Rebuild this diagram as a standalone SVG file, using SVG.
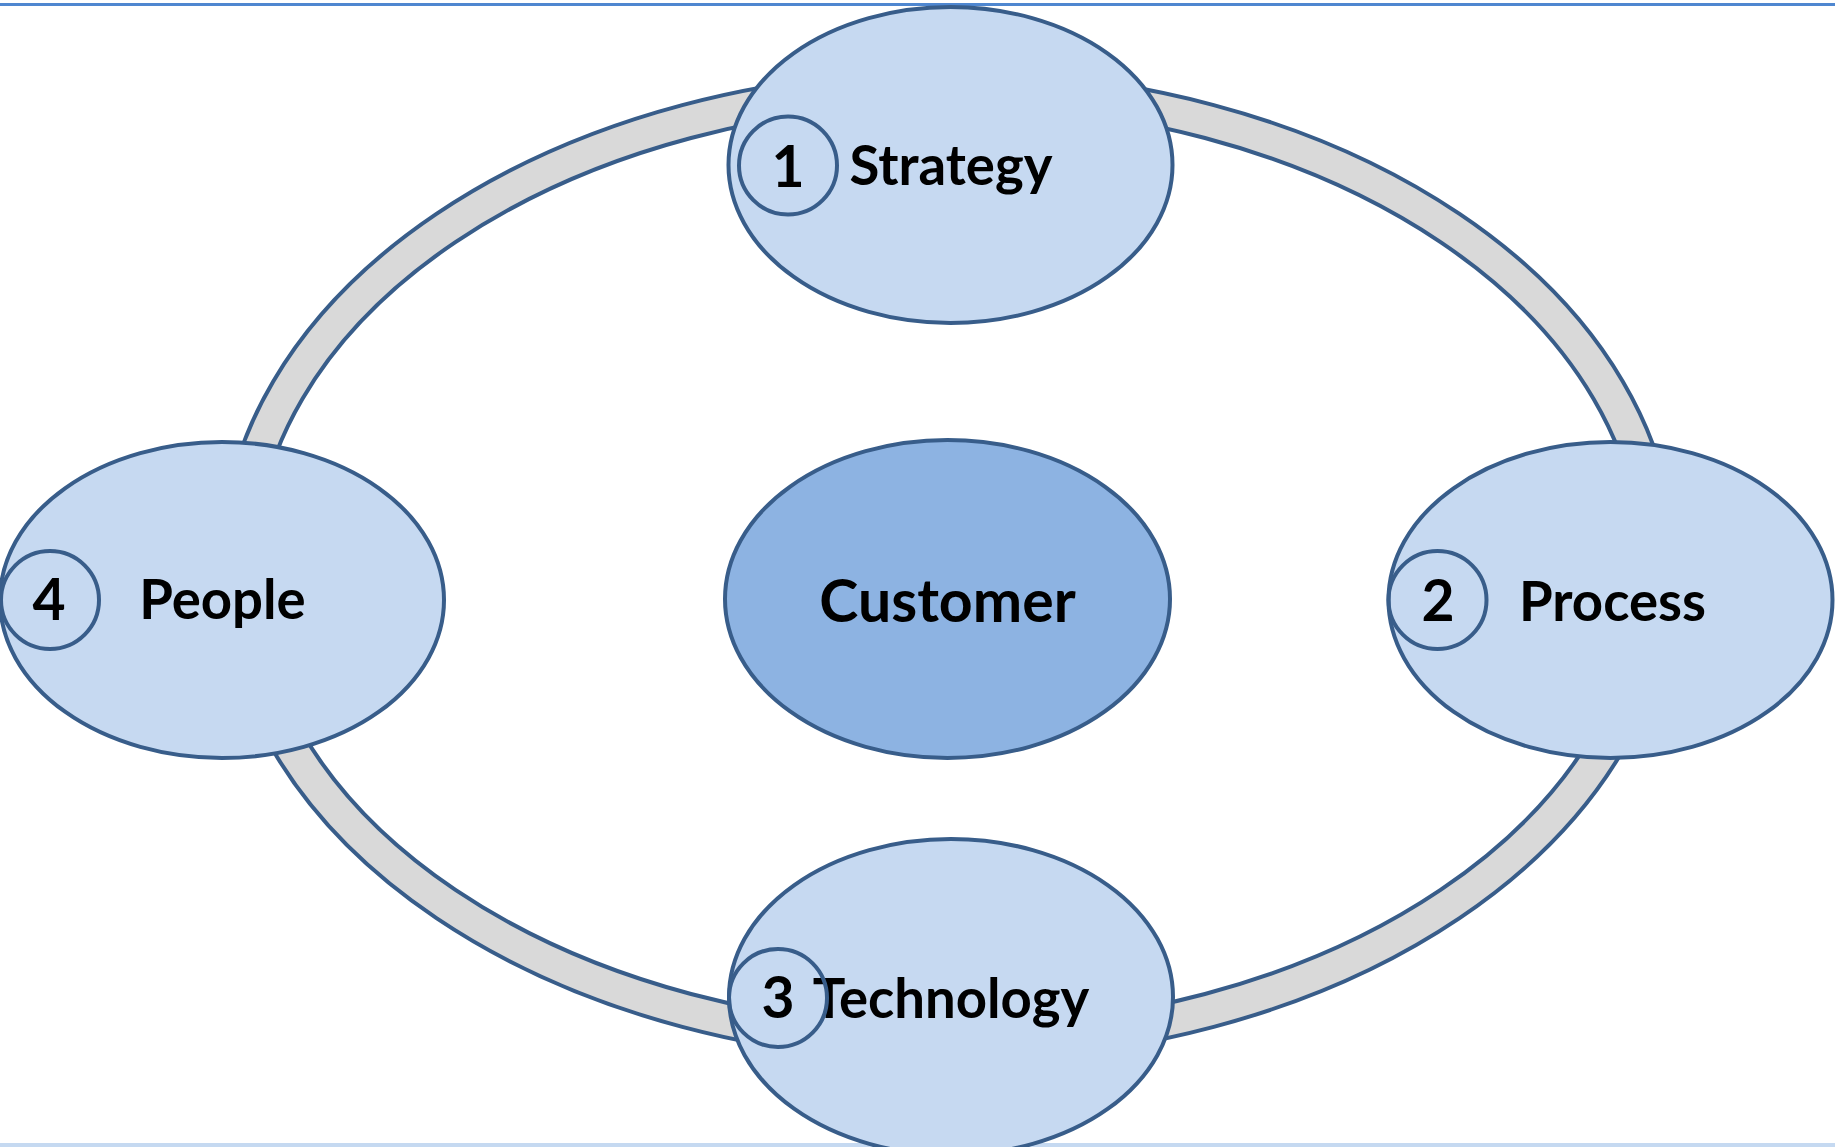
<svg xmlns="http://www.w3.org/2000/svg" width="1835" height="1147" viewBox="0 0 1835 1147">
  <style>
    .node { fill: #c6d9f1; stroke: #385d8a; stroke-width: 4; }
    .center { fill: #8db3e2; stroke: #385d8a; stroke-width: 4; }
    .badge { fill: none; stroke: #385d8a; stroke-width: 4; }
    .lbl { font-family: Lato, "Liberation Sans", sans-serif; font-weight: bold; font-size: 54.5px; fill: #000; text-anchor: middle; }
    .num { font-family: Lato, "Liberation Sans", sans-serif; font-weight: bold; font-size: 57px; fill: #000; text-anchor: middle; }
  </style>
  <rect x="0" y="0" width="1835" height="1147" fill="#ffffff"/>
  <rect x="0" y="3" width="1835" height="3" fill="#4f87d0"/>
  <rect x="0" y="1143" width="1835" height="4" fill="#c5d9f1"/>

  <g id="connectors">
    <ellipse cx="948" cy="566" rx="710" ry="478" fill="none" stroke="#385d8a" stroke-width="38"/>
    <ellipse cx="948" cy="566" rx="710" ry="478" fill="none" stroke="#d9d9d9" stroke-width="30"/>
  </g>

  <g id="node-strategy">
    <ellipse class="node" cx="950.5" cy="165" rx="222" ry="158"/>
    <text class="lbl" x="951" y="185">Strategy</text>
    <text class="num" x="788" y="187">1</text>
    <circle class="badge" cx="788" cy="165.5" r="49"/>
  </g>

  <g id="node-people">
    <ellipse class="node" cx="222" cy="600" rx="222" ry="158"/>
    <text class="lbl" x="222.5" y="619">People</text>
    <text class="num" x="49" y="620">4</text>
    <circle class="badge" cx="50" cy="600" r="49"/>
  </g>

  <g id="node-process">
    <ellipse class="node" cx="1610.5" cy="600" rx="222" ry="158"/>
    <text class="lbl" x="1612.5" y="621">Process</text>
    <text class="num" x="1438" y="621">2</text>
    <circle class="badge" cx="1437.5" cy="600" r="49"/>
  </g>

  <g id="node-technology">
    <ellipse class="node" cx="951" cy="997" rx="222" ry="158"/>
    <text class="lbl" x="951" y="1018">Technology</text>
    <text class="num" x="778" y="1018">3</text>
    <circle class="badge" cx="778" cy="998" r="49"/>
  </g>

  <g id="node-customer">
    <ellipse class="center" cx="947.5" cy="599" rx="222.5" ry="159"/>
    <text class="lbl" x="947.5" y="622" style="font-size:59px">Customer</text>
  </g>
</svg>
